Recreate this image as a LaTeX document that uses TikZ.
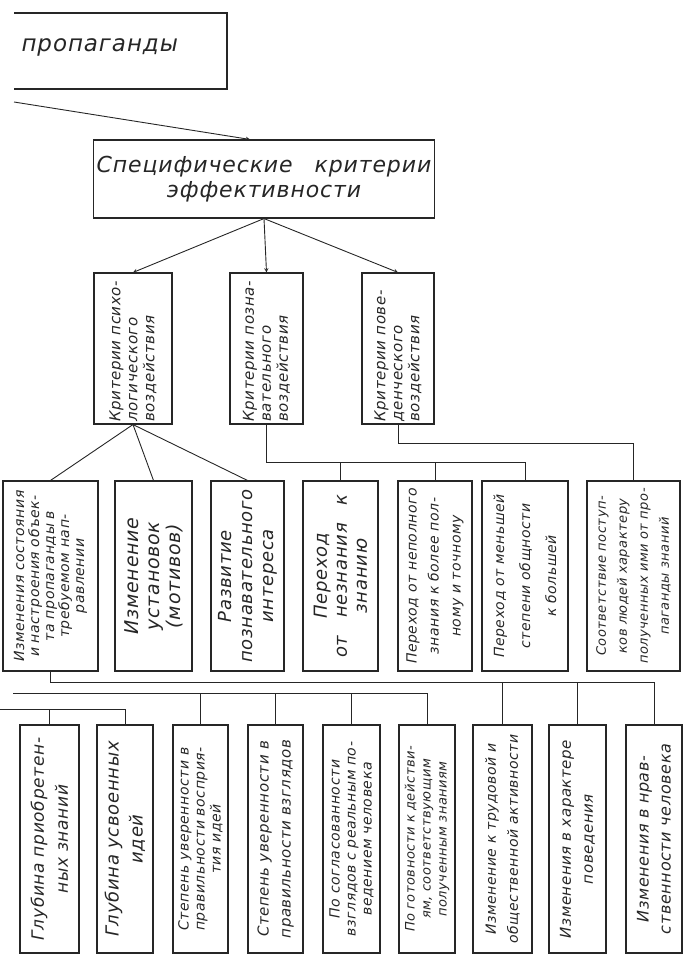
\documentclass[tikz,border=0pt]{standalone}
\usepackage{fontspec}
\setmainfont{DejaVu Sans}[LetterSpace=4]
\usetikzlibrary{arrows}
\usetikzlibrary{calc}
\usetikzlibrary{positioning}

\begin{document}
\begin{tikzpicture}[x=1pt,y=-1pt,
	box/.style={draw, line width=1.1pt, rotate=90, inner sep=1pt, align=center},
	wire/.style={line width=0.9pt},
	fs/.style 2 args={font=\itshape\fontsize{#1}{#2}\selectfont},
	color=black!85]
	\useasboundingbox (0,0) rectangle (683,961);

	% top box, cut at the page edge
	\draw[line width=1.1pt] (14,13) -- (227,13) -- (227,89) -- (14,89);
	\node[fs={23}{25}, anchor=west] (prop) at (18,47) {пропаганды};

	% specific criteria
	\node[draw, line width=1.1pt, minimum width=338pt, minimum height=78pt, align=center, fs={22}{25}] (spec) at (264,179) {Специфические\quad критерии\\эффективности};
	\coordinate (from) at (14,102);
	\draw[wire,->,>=stealth] (from) -- (250,0 |- spec.north);

	% three groups of criteria
	\node[box, minimum width=151pt, minimum height=78pt, text width=146pt, align=left, fs={15}{17}] (psy) at (133,348.5) {Критерии психо-\\логического\\воздействия};
	\node[box, minimum width=151pt, minimum height=73pt, text width=146pt, align=left, fs={15}{17}] (cog) at (266.5,348.5) {Критерии позна-\\вательного\\воздействия};
	\node[box, minimum width=151pt, minimum height=72pt, text width=146pt, align=left, fs={15}{17}] (beh) at (398,348.5) {Критерии пове-\\денческого\\воздействия};

	\foreach \n in {psy,cog,beh} {
		\draw[wire,->,>=stealth] (spec.south) -- (\n.east);
	}

	% criteria
	\node[box, minimum width=190pt, minimum height=95pt, text width=184pt, fs={14}{15}] (mood) at (50.5,576) {Изменения состояния\\и настроения объек-\\та пропаганды в\\требуемом нап-\\равлении};
	\node[box, minimum width=190pt, minimum height=77pt, text width=184pt, fs={19}{21}] (attit) at (153.5,576) {Изменение\\установок\\(мотивов)};
	\node[box, minimum width=190pt, minimum height=73pt, text width=184pt, fs={18}{21}] (inter) at (247.5,576) {Развитие\\познавательного\\интереса};
	\node[box, minimum width=190pt, minimum height=75pt, text width=184pt, fs={18}{20}] (know) at (340.5,576) {Переход\\от\quad незнания\quad к\\знанию};
	\node[box, minimum width=190pt, minimum height=74pt, text width=184pt, fs={14}{22}] (fuller) at (435,576) {Переход от неполного\\знания к более пол-\\ному и точному};
	\node[box, minimum width=190pt, minimum height=86pt, text width=184pt, fs={14}{26}] (general) at (525,576) {Переход от меньшей\\степени общности\\к большей};
	\node[box, minimum width=190pt, minimum height=93pt, text width=184pt, fs={13}{21}] (deeds) at (633.5,576) {Соответствие поступ-\\ков людей характеру\\полученных ими от про-\\паганды знаний};

	\foreach \n in {mood,attit,inter} {
		\draw[wire] (psy.west) -- (\n.east);
	}
	\draw[wire] (cog.west) -- (cog.west |- 0,462) -- (general.east |- 0,462);
	\foreach \n in {know,fuller,general} {
		\draw[wire] (\n.east) -- (\n.east |- 0,462);
	}
	\draw[wire] (beh.west) -- ++(0,19) -| (deeds.east);

	% indicators
	\node[box, minimum width=228pt, minimum height=59pt, text width=220pt, fs={17}{24}] (depthk) at (49.5,839) {Глубина приобретен-\\ных знаний};
	\node[box, minimum width=228pt, minimum height=56pt, text width=220pt, fs={18}{24}] (depthi) at (125,839) {Глубина усвоенных\\идей};
	\node[box, minimum width=228pt, minimum height=55pt, text width=220pt, fs={14}{16}] (surep) at (200.5,839) {Степень уверенности в\\правильности восприя-\\тия идей};
	\node[box, minimum width=228pt, minimum height=55pt, text width=220pt, fs={15}{22}] (surev) at (275.5,839) {Степень уверенности в\\правильности взглядов};
	\node[box, minimum width=228pt, minimum height=57pt, text width=220pt, fs={14}{16}] (accord) at (351.5,839) {По согласованности\\взглядов с реальным по-\\ведением человека};
	\node[box, minimum width=228pt, minimum height=56pt, text width=220pt, fs={13}{16}] (ready) at (427,839) {По готовности к действи-\\ям, соответствующим\\полученным знаниям};
	\node[box, minimum width=228pt, minimum height=59pt, text width=220pt, fs={14}{22}] (labour) at (502.5,839) {Изменение к трудовой и\\общественной активности};
	\node[box, minimum width=228pt, minimum height=57pt, text width=220pt, fs={15}{22}] (conduct) at (577.5,839) {Изменения в характере\\поведения};
	\node[box, minimum width=228pt, minimum height=56pt, text width=220pt, fs={16}{22}] (moral) at (654,839) {Изменения в нрав-\\ственности человека};

	\draw[wire] (mood.west) -- (mood.west |- 0,682) -- (moral.east |- 0,682);
	\foreach \n in {labour,conduct,moral} {
		\draw[wire] (\n.east) -- (\n.east |- 0,682);
	}
	\coordinate (offa) at (13,693);
	\draw[wire] (offa) -- (ready.east |- offa);
	\foreach \n in {surep,surev,accord,ready} {
		\draw[wire] (\n.east) -- (\n.east |- offa);
	}
	\coordinate (offb) at (0,709);
	\draw[wire] (offb) -- (depthi.east |- offb);
	\foreach \n in {depthk,depthi} {
		\draw[wire] (\n.east) -- (\n.east |- offb);
	}
\end{tikzpicture}
\end{document}
